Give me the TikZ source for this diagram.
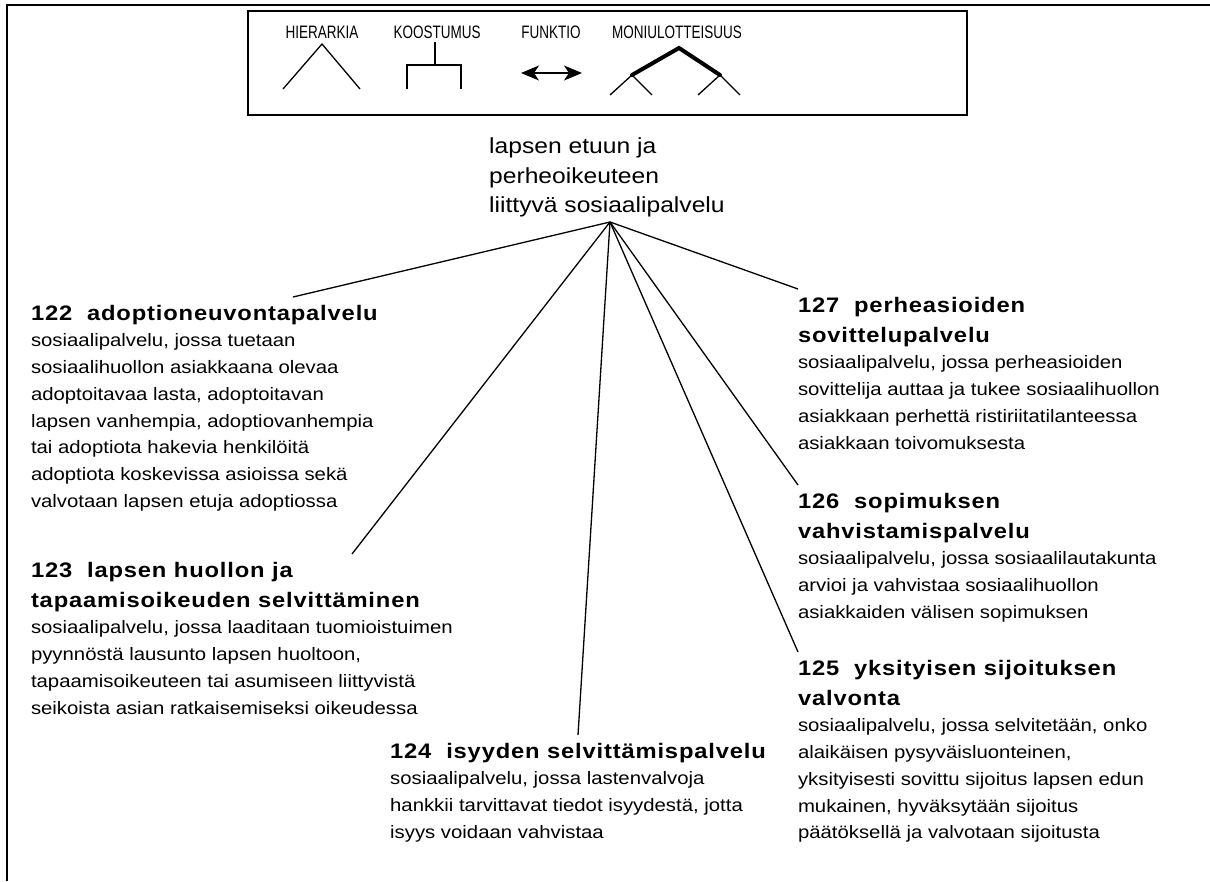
\documentclass[tikz,border=0pt]{standalone}
\usepackage{fontspec}
\setmainfont{Liberation Sans}[FakeStretch=1.13]
\newfontfamily\headfont{Liberation Sans}[FakeStretch=1.13,LetterSpace=4]
\newfontfamily\keyfont{Liberation Sans}[FakeStretch=0.75]
\usetikzlibrary{arrows.meta, positioning, calc}

\newcommand{\hd}[1]{{\headfont\bfseries\fontsize{21}{30}\selectfont #1}}

\begin{document}
\begin{tikzpicture}[
  x=1pt, y=-1pt,
  font=\fontsize{18}{26.7}\selectfont,
  entry/.style={
    anchor=north west,
    align=left,
    inner sep=0pt,
    outer xsep=0pt,
    outer ysep=8pt
  },
  keylabel/.style={
    anchor=base,
    inner sep=0pt,
    font=\keyfont\fontsize{18}{20}\selectfont
  },
  link/.style={line width=1.3pt},
  heavy/.style={line width=4pt, line cap=round},
  twoway/.style={{Stealth[length=18pt,width=15pt,inset=5pt]}-{Stealth[length=18pt,width=15pt,inset=5pt]}, line width=1.2pt}
]
\useasboundingbox (0,0) rectangle (1210,881);

% frame and legend
\draw[line width=2pt] (1210,5) -- (7,5) -- (7,881);
\draw[line width=1.5pt] (248,11) rectangle (967,115);

\node[keylabel] (hier) at (322,38) {HIERARKIA};
\node[keylabel] (koos) at (437,38) {KOOSTUMUS};
\node[keylabel] (funk) at (551,38) {FUNKTIO};
\node[keylabel] (moni) at (677,38) {MONIULOTTEISUUS};

\draw[link] (283,89) -- (322,44) -- (360,89);
\draw[link] (435,42) -- (435,65);
\draw[link] (407,89) -- (407,65) -- (461,65) -- (461,89);
\draw[twoway] (521,73) -- (582,73);
\draw[heavy] (632,75) -- (679,48) -- (720,75);
\draw[link] (610,95) -- (632,75) -- (652,95);
\draw[link] (698,95) -- (720,75) -- (740,95);

% top concept
\node[anchor=north west, align=left, inner sep=0pt,
      font=\fontsize{21.8}{29.5}\selectfont] (root) at (489,138)
  {lapsen etuun ja\\perheoikeuteen\\liittyvä sosiaalipalvelu};
\coordinate (hub) at (610,222);

% narrower concepts
\node[entry] (n122) at (31,297) {\hd{122\ \ adoptioneuvontapalvelu}\\
  sosiaalipalvelu, jossa tuetaan\\
  sosiaalihuollon asiakkaana olevaa\\
  adoptoitavaa lasta, adoptoitavan\\
  lapsen vanhempia, adoptiovanhempia\\
  tai adoptiota hakevia henkilöitä\\
  adoptiota koskevissa asioissa sekä\\
  valvotaan lapsen etuja adoptiossa};

\node[entry] (n123) at (31,554) {\hd{123\ \ lapsen huollon ja}\\[3.3pt]
  \hd{tapaamisoikeuden selvittäminen}\\
  sosiaalipalvelu, jossa laaditaan tuomioistuimen\\
  pyynnöstä lausunto lapsen huoltoon,\\
  tapaamisoikeuteen tai asumiseen liittyvistä\\
  seikoista asian ratkaisemiseksi oikeudessa};

\node[entry, anchor=north] (n124) at (578,735) {\hd{124\ \ isyyden selvittämispalvelu}\\
  sosiaalipalvelu, jossa lastenvalvoja\\
  hankkii tarvittavat tiedot isyydestä, jotta\\
  isyys voidaan vahvistaa};

\node[entry] (n125) at (798,652) {\hd{125\ \ yksityisen sijoituksen}\\[3.3pt]
  \hd{valvonta}\\
  sosiaalipalvelu, jossa selvitetään, onko\\
  alaikäisen pysyväisluonteinen,\\
  yksityisesti sovittu sijoitus lapsen edun\\
  mukainen, hyväksytään sijoitus\\
  päätöksellä ja valvotaan sijoitusta};

\node[entry] (n126) at (798,485) {\hd{126\ \ sopimuksen}\\[3.3pt]
  \hd{vahvistamispalvelu}\\
  sosiaalipalvelu, jossa sosiaalilautakunta\\
  arvioi ja vahvistaa sosiaalihuollon\\
  asiakkaiden välisen sopimuksen};

\node[entry] (n127) at (798,289) {\hd{127\ \ perheasioiden}\\[3.3pt]
  \hd{sovittelupalvelu}\\
  sosiaalipalvelu, jossa perheasioiden\\
  sovittelija auttaa ja tukee sosiaalihuollon\\
  asiakkaan perhettä ristiriitatilanteessa\\
  asiakkaan toivomuksesta};

% hierarchy lines
\draw[link] (hub) -- ($(n122.north west)+(262,0)$);
\draw[link] (hub) -- ($(n123.north west)+(321,0)$);
\draw[link] (hub) -- (n124.north);
\draw[link] (hub) -- (n125.north west);
\draw[link] (hub) -- (n126.north west);
\draw[link] (hub) -- (n127.north west);

\end{tikzpicture}
\end{document}
